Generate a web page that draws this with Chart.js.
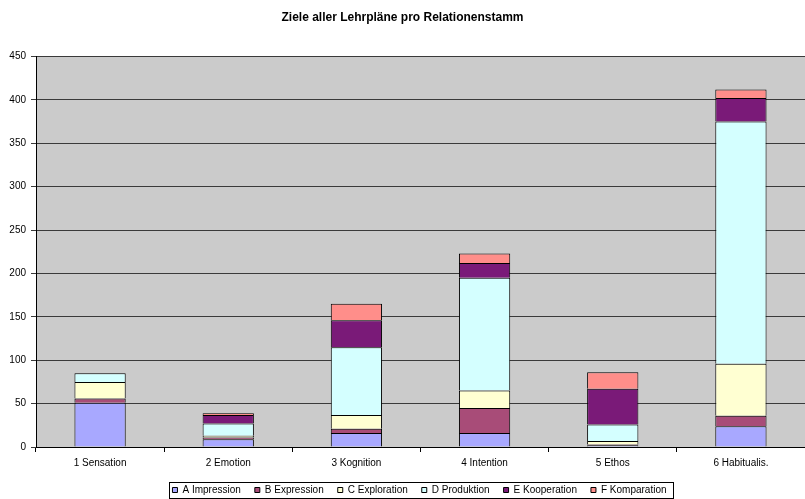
<!DOCTYPE html>
<html>
<head>
<meta charset="utf-8">
<script src="https://cdn.jsdelivr.net/npm/chart.js@4/dist/chart.umd.min.js"></script>
<style>
html,body{margin:0;padding:0;background:#fff;}
#wrap{width:805px;height:499px;position:relative;}
</style>
</head>
<body>
<div id="wrap"><canvas id="c" width="805" height="499"></canvas></div>
<script>
const categories = ["1 Sensation", "2 Emotion", "3 Kognition", "4 Intention", "5 Ethos", "6 Habitualis."];
const seriesNames = ["A Impression", "B Expression", "C Exploration", "D Produktion", "E Kooperation", "F Komparation"];
const impression  = [51, 9, 16, 16, 2, 24];
const expression  = [5, 2, 5, 29, 1, 12];
const exploration = [19, 2, 16, 20, 4, 60];
const produktion  = [10, 14, 78, 130, 19, 279];
const kooperation = [0, 10, 31, 17, 41, 27];
const komparation = [0, 2, 19, 11, 19, 10];
const yTicks = [0, 50, 100, 150, 200, 250, 300, 350, 400, 450];

const colors = ["#A8A8FF", "#A84C78", "#FFFFD2", "#D4FFFF", "#7A1A78", "#FF8E8A"];
const values = [impression, expression, exploration, produktion, kooperation, komparation];

const FONT = "'Liberation Sans', Arial, sans-serif";

const plotBg = {
  id: 'plotBg',
  beforeDraw(chart) {
    const {ctx, chartArea: a} = chart;
    ctx.save();
    ctx.fillStyle = '#CBCBCB';
    ctx.fillRect(a.left, a.top, a.right - a.left, a.bottom - a.top);
    ctx.restore();
  }
};

const legendTweak = {
  id: 'legendTweak',
  afterLayout(chart) {
    const lg = chart.legend;
    lg.left += 17; lg.right += 17;
    lg.top -= 6; lg.bottom = chart.height; lg.height = lg.bottom - lg.top;
  },
  afterDraw(chart) {
    const lg = chart.legend;
    const pad = lg.options.labels.padding;
    const lw = lg.lineWidths[0];
    const start = (lg.left + lg.right + pad - lw) / 2;
    const end = start + lw - pad;
    const c = chart.ctx;
    c.save();
    c.strokeStyle = '#000';
    c.lineWidth = 1;
    c.strokeRect(Math.round(start - 3) + 0.5, 482.5, Math.round(end - start + 10), 16);
    c.restore();
  }
};

new Chart(document.getElementById('c'), {
  type: 'bar',
  data: {
    labels: categories,
    datasets: seriesNames.map((n, i) => ({
      label: n,
      data: values[i],
      backgroundColor: colors[i],
      borderColor: '#000',
      borderWidth: 1,
      barPercentage: 0.4,
      categoryPercentage: 1.0
    }))
  },
  options: {
    responsive: false,
    animation: false,
    layout: { padding: { left: 0, right: 0, top: 0, bottom: 0 } },
    plugins: {
      title: {
        display: true,
        text: 'Ziele aller Lehrpläne pro Relationenstamm',
        color: '#000',
        font: { family: FONT, size: 12, weight: 'bold' },
        padding: { top: 10, bottom: 32 }
      },
      legend: {
        position: 'bottom',
        maxHeight: 22,
        labels: {
          color: '#000',
          font: { family: FONT, size: 10 },
          boxWidth: 5,
          boxHeight: 5,
          padding: 14,
          generateLabels(chart) {
            return chart.data.datasets.map((d, i) => ({
              text: d.label,
              fillStyle: d.backgroundColor,
              strokeStyle: '#000',
              lineWidth: 1,
              hidden: false,
              datasetIndex: i
            }));
          }
        }
      },
      tooltip: { enabled: false }
    },
    scales: {
      x: {
        stacked: true,
        offset: true,
        grid: { display: true, drawOnChartArea: false, drawTicks: true, tickLength: 5, color: '#000', offset: true },
        border: { display: true, color: '#000', width: 1 },
        ticks: { color: '#000', font: { family: FONT, size: 10 }, padding: 5, maxRotation: 0 },
        afterFit(s) { s.height = 30; }
      },
      y: {
        stacked: true,
        min: 0,
        max: 450,
        afterBuildTicks(s) { s.ticks = yTicks.map(v => ({ value: v })); },
        grid: { color: '#3a3a3a', tickLength: 5, drawTicks: true },
        border: { display: true, color: '#000', width: 1 },
        ticks: { color: '#000', font: { family: FONT, size: 10 }, padding: 5 },
        afterFit(s) { s.width = 36; }
      }
    }
  },
  plugins: [plotBg, legendTweak]
});
</script>
</body>
</html>
